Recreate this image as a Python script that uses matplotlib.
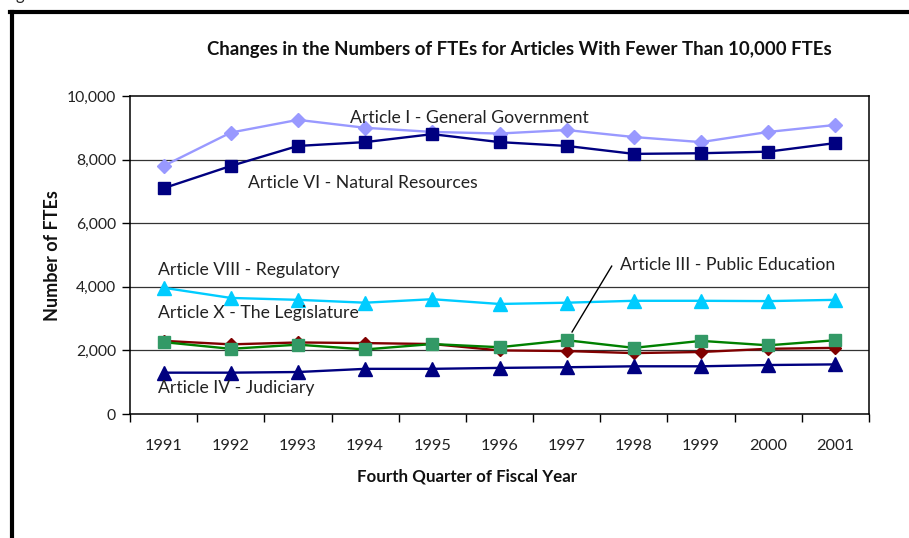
import matplotlib
matplotlib.use("Agg")
import matplotlib.pyplot as plt
from matplotlib.lines import Line2D

plt.rcParams['font.family'] = ['Lato', 'DejaVu Sans']

years = ["1991", "1992", "1993", "1994", "1995", "1996",
         "1997", "1998", "1999", "2000", "2001"]

art_i_general = [7800, 8850, 9250, 9000, 8870, 8820, 8930, 8710, 8550, 8870, 9090]
art_vi_natural = [7100, 7800, 8430, 8550, 8800, 8550, 8430, 8180, 8200, 8250, 8520]
art_viii_regulatory = [3970, 3650, 3590, 3500, 3610, 3460, 3500, 3560, 3560, 3550, 3590]
art_x_legislature = [2300, 2190, 2250, 2230, 2200, 2000, 1980, 1915, 1950, 2050, 2080]
art_iii_education = [2260, 2050, 2180, 2030, 2200, 2100, 2320, 2080, 2300, 2160, 2320]
art_iv_judiciary = [1300, 1300, 1320, 1420, 1420, 1450, 1470, 1500, 1500, 1540, 1560]

W, H = 909, 538
fig = plt.figure(figsize=(W / 100, H / 100), dpi=100)
ax = fig.add_axes([130 / W, 1 - 414 / H, (869 - 130) / W, (414 - 96) / H])

x = list(range(len(years)))

# series: (values, line colour, marker, marker colour, marker size)
series = [
    (art_i_general, "#9999FF", "D", "#9999FF", 7.5),
    (art_vi_natural, "#000080", "s", "#000080", 9),
    (art_viii_regulatory, "#00CCFF", "^", "#00CCFF", 10),
    (art_x_legislature, "#800000", "D", "#800000", 6.5),
    (art_iii_education, "#008000", "s", "#339966", 9),
    (art_iv_judiciary, "#000080", "^", "#000080", 10),
]
for vals, lc, mk, mc, ms in series:
    ax.plot(x, vals, color=lc, lw=1.7, marker=mk, ms=ms,
            markerfacecolor=mc, markeredgecolor=mc, zorder=3)

ax.set_xlim(-0.5, len(years) - 0.5)
ax.set_ylim(0, 10000)
ax.set_yticks(range(0, 10001, 2000))
ax.set_yticklabels([f"{v:,}" for v in range(0, 10001, 2000)])
ax.set_xticks(x)
ax.set_xticklabels(years)
ax.set_xticks([i - 0.5 for i in range(len(years) + 1)], minor=True)
ax.tick_params(axis="x", which="major", length=0, pad=18, labelsize=11.8, colors="#222222")
ax.tick_params(axis="x", which="minor", length=6, width=1, direction="out")
ax.tick_params(axis="y", length=6, width=1, direction="out", pad=4, labelsize=11.3)
for lbl in ax.get_yticklabels():
    lbl.set_color("#222222")
for y in range(2000, 10000, 2000):
    ax.axhline(y, color="#333333", lw=0.9, zorder=1)
for s in ax.spines.values():
    s.set_linewidth(1.1)
    s.set_color("black")

txt = dict(fontsize=12.7, color="#222222", va="center", ha="left")
ax.text(2.77, 9310, "Article I - General Government", **txt)
ax.text(1.26, 7260, "Article VI - Natural Resources", **txt)
ax.text(-0.08, 4530, "Article VIII - Regulatory", **txt)
ax.text(-0.08, 3180, "Article X - The Legislature", **txt)
ax.text(-0.08, 820, "Article IV - Judiciary", **txt)
ax.text(6.79, 4690, "Article III - Public Education", **txt)
ax.plot([6.67, 6.08], [4650, 2580], color="black", lw=1, zorder=4)

fig.text(519 / W, 1 - 50 / H, "Changes in the Numbers of FTEs for Articles With Fewer Than 10,000 FTEs",
         ha="center", va="center", fontsize=13.4, fontweight="bold", color="#111111")
fig.text(52 / W, 1 - 256 / H, "Number of FTEs", rotation=90, ha="center", va="center",
         fontsize=13, fontweight="bold", color="#111111")
fig.text(467 / W, 1 - 476 / H, "Fourth Quarter of Fiscal Year", ha="center", va="center",
         fontsize=12.2, fontweight="bold", color="#111111")

# outer frame (left and top edges are visible)
fig.add_artist(Line2D([12 / W, 12 / W], [0, 1 - 12 / H], color="black", lw=3, transform=fig.transFigure))
fig.add_artist(Line2D([10 / W, 1], [1 - 12 / H, 1 - 12 / H], color="black", lw=3, transform=fig.transFigure))
fig.text(16 / W, 1.0, "g", ha="left", va="baseline", fontsize=12, color="#222222")

fig.savefig("out.png", dpi=100)
